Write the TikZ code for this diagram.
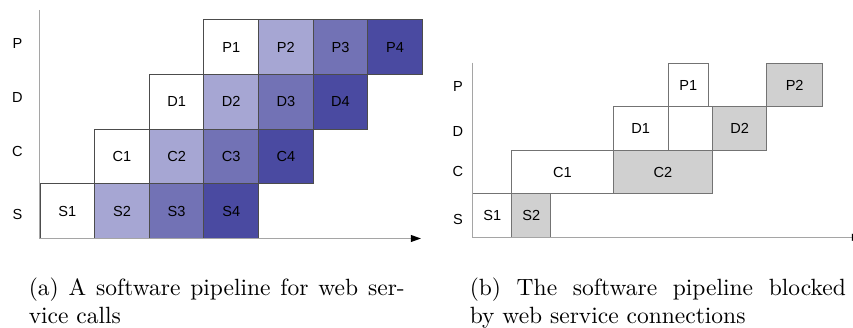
\documentclass[tikz,border=0pt]{standalone}
\usepackage{fontspec}
\setsansfont{Liberation Sans}
\usetikzlibrary{arrows.meta}
\usetikzlibrary{positioning}

\definecolor{stageone}{RGB}{166,166,211}
\definecolor{stagetwo}{RGB}{114,114,181}
\definecolor{stagethree}{RGB}{74,74,161}
\definecolor{blocked}{RGB}{208,208,208}
\definecolor{axisgray}{RGB}{165,165,165}

\tikzset{
    every node/.style={font=\sffamily\fontsize{6.2}{7}\selectfont},
    cell/.style={draw=black!70, line width=0.4pt, inner sep=0pt, outer sep=0pt,
        minimum width=23.25pt, minimum height=23.25pt},
    wcell/.style={draw=black!55, line width=0.4pt, inner sep=0pt, outer sep=0pt,
        minimum height=18.5pt},
    axis/.style={draw=axisgray, line width=0.55pt},
    caption/.style={font=\rmfamily\normalsize, text width=160pt, align=justify,
        inner sep=0pt, anchor=north west}
}

\begin{document}
\begin{tikzpicture}[
            x = 0.4255pt, y = -0.4255pt, % pixel grid, y grows downwards
            node distance = 23.25pt, % one pipeline slot
            tip/.style = {-{Triangle[length=4.3pt, width=2.9pt, color=black]}}
        ]
        \useasboundingbox (0,0) rectangle (853,328);

        % (a) full pipeline
        \node (aRowP) at (17.5,43) {P};
        \node (aRowD) at (17.5,97) {D};
        \node (aRowC) at (17.5,151.5) {C};
        \node (aRowS) at (17.5,214.5) {S};

        \node[cell] (aS1) at (67.3,211.1) {S1};
        \node[cell, fill = stageone] [right of=aS1] (aS2) {S2};
        \node[cell, fill = stagetwo] [right of=aS2] (aS3) {S3};
        \node[cell, fill = stagethree] [right of=aS3] (aS4) {S4};

        \node[cell] [above of=aS2] (aC1) {C1};
        \node[cell, fill = stageone] [right of=aC1] (aC2) {C2};
        \node[cell, fill = stagetwo] [right of=aC2] (aC3) {C3};
        \node[cell, fill = stagethree] [right of=aC3] (aC4) {C4};

        \node[cell] [above of=aC2] (aD1) {D1};
        \node[cell, fill = stageone] [right of=aD1] (aD2) {D2};
        \node[cell, fill = stagetwo] [right of=aD2] (aD3) {D3};
        \node[cell, fill = stagethree] [right of=aD3] (aD4) {D4};

        \node[cell] [above of=aD2] (aP1) {P1};
        \node[cell, fill = stageone] [right of=aP1] (aP2) {P2};
        \node[cell, fill = stagetwo] [right of=aP2] (aP3) {P3};
        \node[cell, fill = stagethree] [right of=aP3] (aP4) {P4};

        \coordinate (aTop) at (39.5,10);
        \coordinate (aOrig) at (39.5,238.5);
        \coordinate (aEnd) at (421,238.5);
        \draw[axis, tip] (aTop) -- (aOrig) -- (aEnd);

        % (b) pipeline waiting on the connections
        \node (bRowP) at (458,86) {P};
        \node (bRowD) at (458,131) {D};
        \node (bRowC) at (458,171.7) {C};
        \node (bRowS) at (458,219) {S};

        \node[wcell, minimum width=16.6pt, anchor=south west] (bS1) at (472.7,237.3) {S1};
        \node[wcell, fill = blocked, minimum width=16.7pt, right=0pt of bS1] (bS2) {S2};
        \node[wcell, minimum width=43.2pt, anchor=south west] (bC1) at (bS2.north west) {C1};
        \node[wcell, fill = blocked, minimum width=42.3pt, right=0pt of bC1] (bC2) {C2};
        \node[wcell, minimum width=23.4pt, anchor=south west] (bD1) at (bC2.north west) {D1};
        \node[wcell, minimum width=18.9pt, right=0pt of bD1] (bD0) {};
        \node[wcell, fill = blocked, minimum width=23pt, right=0pt of bD0] (bD2) {D2};
        \node[wcell, minimum width=17pt, anchor=south west] (bP1) at (bD0.north west) {P1};
        \node[wcell, fill = blocked, minimum width=23.8pt, anchor=south west] (bP2) at (bD2.north east) {P2};

        \coordinate (bTop) at (472.7,62.7);
        \coordinate (bOrig) at (472.7,237.3);
        \coordinate (bEnd) at (862,237.3);
        \draw[axis, tip] (bTop) -- (bOrig) -- (bEnd);

        % sub-captions
        \node[caption] (capA) at (28.3,277) {(a) A software pipeline for web ser-\linebreak vice calls};
        \node[caption] (capB) at (469.3,277) {(b) The software pipeline blocked\linebreak by web service connections};

  \end{tikzpicture}
\end{document}
